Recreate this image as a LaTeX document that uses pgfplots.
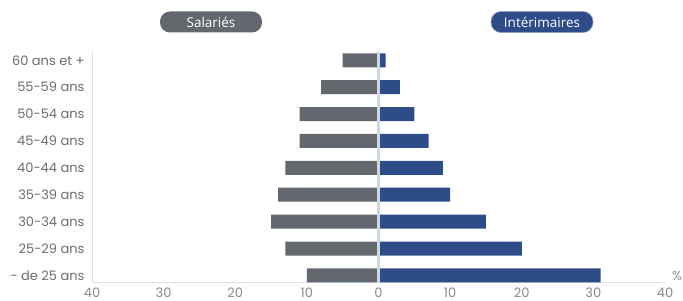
\documentclass[border=0pt]{standalone}
\usepackage{pgfplots}
\pgfplotsset{compat=1.18}
\usepackage{fontspec}
\setmainfont{Poppins}
\newfontfamily\headfont{Open Sans}
\definecolor{salgrey}{RGB}{99,103,110}
\definecolor{intblue}{RGB}{46,76,135}
\definecolor{axisline}{RGB}{214,225,232}
\definecolor{zeroline}{RGB}{205,217,224}
\definecolor{labgrey}{RGB}{105,108,113}
\definecolor{tickgrey}{RGB}{135,139,143}
\pgfplotstableread{
cat sal int
0 -10 31
1 -13 20
2 -15 15
3 -14 10
4 -13 9
5 -11 7
6 -11 5
7 -8 3
8 -5 1
}\datatable
\begin{document}
\begin{tikzpicture}
\begin{axis}[anchor=south west, scale only axis,
  width=573pt, height=230.5pt,
  xmin=-40, xmax=40, ymin=-0.27, ymax=8.3,
  xbar, bar width=14pt, bar shift=0pt,
  axis x line*=bottom, axis y line*=left,
  axis line style={axisline, line width=0.8pt, -},
  xtick={-40,-30,-20,-10,0,10,20,30,40},
  xticklabels={40,30,20,10,0,10,20,30,40},
  ytick={0,1,2,3,4,5,6,7,8},
  yticklabels={{- de 25 ans},{25-29 ans},{30-34 ans},{35-39 ans},{40-44 ans},{45-49 ans},{50-54 ans},{55-59 ans},{60 ans et +}},
  major tick length=0pt, tick style={draw=none},
  /pgf/number format/assume math mode=true,
  xticklabel style={font=\fontsize{13}{14}\selectfont, text=tickgrey, yshift=-1.5pt},
  yticklabel style={font=\fontsize{13}{14}\selectfont, text=labgrey, xshift=-4pt},
  clip=false,
]
\addplot[fill=salgrey, draw=none] table[x=sal, y=cat] {\datatable};
\addplot[fill=intblue, draw=none] table[x=int, y=cat] {\datatable};
\draw[zeroline, line width=3pt] (axis cs:0,-0.27) -- (axis cs:0,8.3);
\end{axis}
\useasboundingbox (-92pt,-17.3pt) rectangle (591pt,282.7pt);
\node[text=tickgrey, font=\fontsize{13}{14}\selectfont] at (585pt,6.7pt) {\%};
\node[fill=salgrey, rounded corners=10pt, minimum width=102pt, minimum height=21pt, inner sep=0pt,
  text=white, font=\headfont\fontsize{13.5}{14}\selectfont] at (119pt,260.7pt) {Salariés};
\node[fill=intblue, draw=intblue!55!white, line width=0.6pt, rounded corners=10pt, minimum width=102pt, minimum height=21pt, inner sep=0pt,
  text=white, font=\headfont\fontsize{13.5}{14}\selectfont] at (450pt,260.7pt) {Intérimaires};
\end{tikzpicture}
\end{document}
